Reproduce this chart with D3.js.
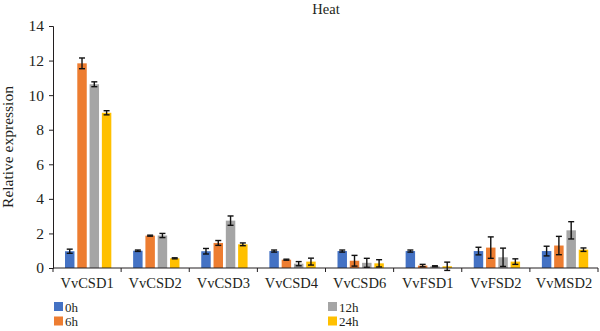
<!DOCTYPE html>
<html>
<head>
<meta charset="utf-8">
<script src="https://cdn.jsdelivr.net/npm/d3@7"></script>
<style>
  html, body { margin: 0; padding: 0; background: #fff; }
  svg { display: block; }
  text { font-family: "Liberation Serif", "Times New Roman", serif; fill: #231f20; }
</style>
</head>
<body>
<script>
const categories = ["VvCSD1", "VvCSD2", "VvCSD3", "VvCSD4", "VvCSD6", "VvFSD1", "VvFSD2", "VvMSD2"];
const seriesNames = ["0h", "6h", "12h", "24h"];
const seriesColors = ["#4472C4", "#ED7D31", "#A5A5A5", "#FFC000"];
const values0h  = [0.97, 1.00, 0.97, 0.98, 0.98, 0.98, 0.98, 0.98];
const values6h  = [11.84, 1.87, 1.45, 0.48, 0.42, 0.14, 1.18, 1.30];
const values12h = [10.63, 1.88, 2.74, 0.25, 0.30, 0.10, 0.62, 2.18];
const values24h = [8.98, 0.56, 1.37, 0.37, 0.27, 0.10, 0.37, 1.06];
const errors0h  = [0.12, 0.04, 0.16, 0.06, 0.06, 0.06, 0.22, 0.28];
const errors6h  = [0.31, 0.03, 0.14, 0.03, 0.31, 0.07, 0.62, 0.53];
const errors12h = [0.14, 0.12, 0.27, 0.12, 0.26, 0.03, 0.53, 0.50];
const errors24h = [0.12, 0.03, 0.08, 0.20, 0.21, 0.24, 0.16, 0.10];
const yTicks = [0, 2, 4, 6, 8, 10, 12, 14];
const title = "Heat";
const yLabel = "Relative expression";

const allValues = [values0h, values6h, values12h, values24h];
const allErrors = [errors0h, errors6h, errors12h, errors24h];

const W = 600, H = 331;
const svg = d3.select("body").append("svg").attr("width", W).attr("height", H);

const mLeft = 53, mRight = 598, mTop = 26, mBottom = 268;

const x0 = d3.scaleBand().domain(categories).range([mLeft, mRight]).padding(0);
const x1 = d3.scaleBand().domain(seriesNames)
  .range([12, 12 + x0.bandwidth() * 0.68]).paddingInner(0.23).paddingOuter(0);
const y = d3.scaleLinear().domain([0, 14]).range([mBottom, mTop]);

// title
svg.append("text").attr("x", 326).attr("y", 14).attr("text-anchor", "middle")
  .attr("font-size", 14.5).text(title);

// y label
svg.append("text").attr("transform", `translate(13,${(mTop + mBottom) / 2}) rotate(-90)`)
  .attr("text-anchor", "middle").attr("font-size", 15.5).text(yLabel);

// bars
const data = [];
categories.forEach((c, i) => {
  seriesNames.forEach((s, j) => {
    data.push({ c, s, j, v: allValues[j][i], e: allErrors[j][i] });
  });
});

const g = svg.append("g");
g.selectAll("rect.bar").data(data).join("rect")
  .attr("class", "bar")
  .attr("x", d => x0(d.c) + x1(d.s))
  .attr("width", x1.bandwidth())
  .attr("y", d => y(d.v))
  .attr("height", d => y(0) - y(d.v))
  .attr("fill", d => seriesColors[d.j]);

// error bars
const eb = g.selectAll("g.err").data(data).join("g").attr("class", "err")
  .attr("stroke", "#111").attr("stroke-width", 1.4);
const cx = d => x0(d.c) + x1(d.s) + x1.bandwidth() / 2;
eb.append("line")
  .attr("x1", cx).attr("x2", cx)
  .attr("y1", d => y(d.v + d.e)).attr("y2", d => y(d.v - d.e));
eb.append("line")
  .attr("x1", d => cx(d) - 3).attr("x2", d => cx(d) + 3)
  .attr("y1", d => y(d.v + d.e)).attr("y2", d => y(d.v + d.e));
eb.append("line")
  .attr("x1", d => cx(d) - 3).attr("x2", d => cx(d) + 3)
  .attr("y1", d => y(d.v - d.e)).attr("y2", d => y(d.v - d.e));

// y axis
const yAxis = d3.axisLeft(y).tickValues(yTicks).tickSize(4).tickPadding(5);
const ya = svg.append("g").attr("transform", `translate(${mLeft},0)`).call(yAxis);
ya.select(".domain").attr("stroke", "#231f20");
ya.selectAll(".tick line").attr("stroke", "#231f20");
ya.selectAll("text").attr("font-size", 15.5).attr("font-family", "Liberation Serif").attr("fill", "#231f20");

// x axis
const xa = svg.append("g").attr("transform", `translate(0,${mBottom})`);
xa.append("line").attr("x1", mLeft).attr("x2", mRight).attr("y1", 0).attr("y2", 0)
  .attr("stroke", "#231f20");
const boundaries = categories.map(c => x0(c)).concat([x0(categories[categories.length - 1]) + x0.bandwidth()]);
xa.selectAll("line.tk").data(boundaries).join("line").attr("class", "tk")
  .attr("x1", d => d).attr("x2", d => d).attr("y1", 0).attr("y2", 4).attr("stroke", "#231f20");
xa.selectAll("text").data(categories).join("text")
  .attr("x", c => x0(c) + x0.bandwidth() / 2).attr("y", 20)
  .attr("text-anchor", "middle").attr("font-size", 14.5).text(c => c);

// legend
const legendPos = [[54, 302], [54, 316.5], [328, 302], [328, 316.5]];
const lg = svg.append("g").selectAll("g").data(seriesNames).join("g")
  .attr("transform", (d, i) => `translate(${legendPos[i][0]},${legendPos[i][1]})`);
lg.append("rect").attr("width", 9).attr("height", 9).attr("fill", (d, i) => seriesColors[i]);
lg.append("text").attr("x", 11).attr("y", 9.5).attr("font-size", 13).text(d => d);
</script>
</body>
</html>
